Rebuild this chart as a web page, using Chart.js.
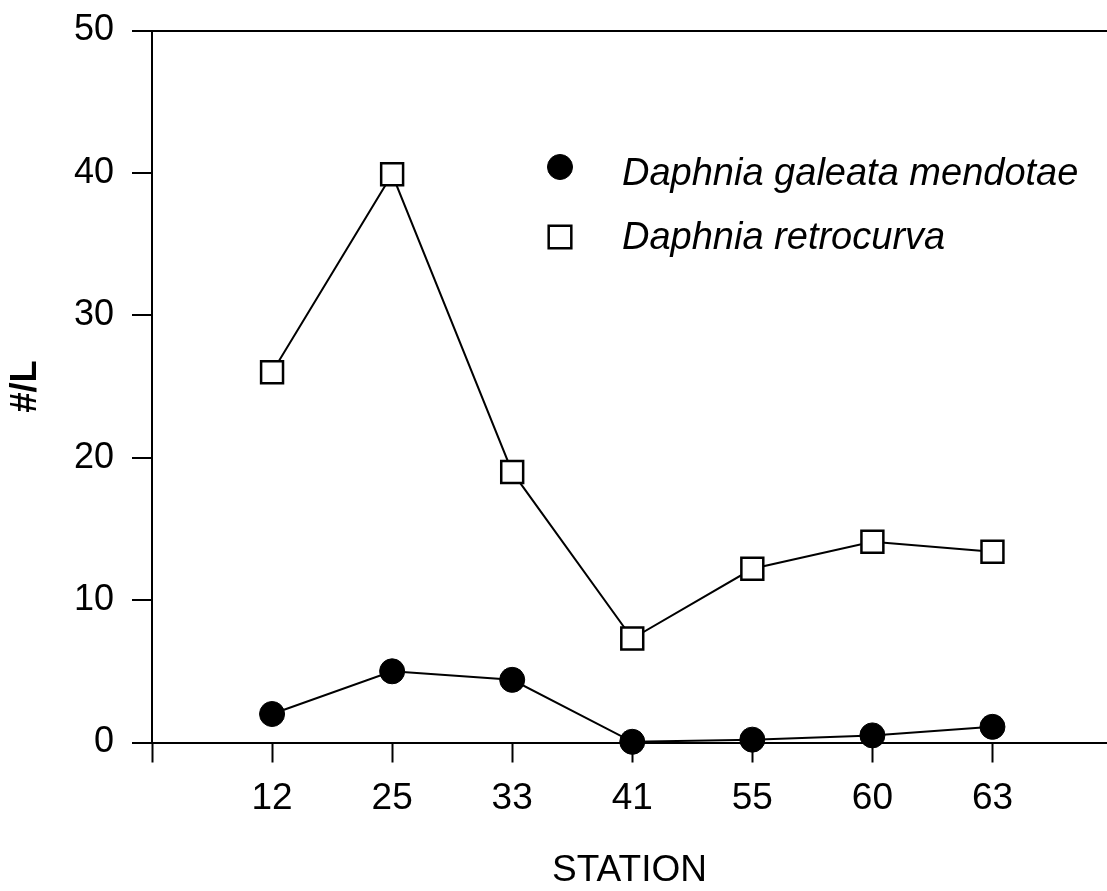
<!DOCTYPE html>
<html>
<head>
<meta charset="utf-8">
<script src="https://cdn.jsdelivr.net/npm/chart.js@4/dist/chart.umd.min.js"></script>
<style>
html,body{margin:0;padding:0;background:#fff;}
#wrap{width:1107px;height:891px;}
</style>
</head>
<body>
<div id="wrap"><canvas id="c" width="1107" height="891"></canvas></div>
<script>
const stations = ['12', '25', '33', '41', '55', '60', '63'];
const galeata = [2.0, 5.0, 4.4, 0.05, 0.2, 0.5, 1.1];
const retrocurva = [26.0, 39.9, 19.0, 7.3, 12.2, 14.1, 13.4];
const yTicks = [0, 10, 20, 30, 40, 50];
const seriesNames = ['Daphnia galeata mendotae', 'Daphnia retrocurva'];

const FONT = '"Liberation Sans", Arial, Helvetica, sans-serif';

const toXY = arr => arr.map((v, i) => ({x: i, y: v}));

const legendPlugin = {
  id: 'customLegend',
  afterDraw(chart) {
    const ctx = chart.ctx;
    ctx.save();
    const items = [
      {ds: chart.data.datasets[0], y: 167, baseline: 185},
      {ds: chart.data.datasets[1], y: 237, baseline: 249}
    ];
    items.forEach(it => {
      ctx.lineWidth = it.ds.pointBorderWidth;
      ctx.strokeStyle = it.ds.pointBorderColor;
      ctx.fillStyle = it.ds.pointBackgroundColor;
      Chart.helpers.drawPoint(ctx, {
        pointStyle: it.ds.pointStyle,
        radius: it.ds.pointStyle === 'rect' ? 16 : it.ds.pointRadius,
        rotation: 0,
        borderWidth: it.ds.pointBorderWidth
      }, 560, it.y);
      ctx.fillStyle = '#000';
      ctx.font = 'italic 38px ' + FONT;
      ctx.textAlign = 'left';
      ctx.textBaseline = 'alphabetic';
      ctx.fillText(it.ds.label, 622, it.baseline);
    });
    ctx.restore();
  }
};

new Chart(document.getElementById('c'), {
  type: 'line',
  data: {
    datasets: [
      {
        label: seriesNames[0],
        data: toXY(galeata),
        borderColor: '#000',
        borderWidth: 2,
        pointStyle: 'circle',
        pointRadius: 12.5,
        pointBackgroundColor: '#000',
        pointBorderColor: '#000',
        pointBorderWidth: 1,
        clip: false,
        tension: 0
      },
      {
        label: seriesNames[1],
        data: toXY(retrocurva),
        borderColor: '#000',
        borderWidth: 2,
        pointStyle: 'rect',
        pointRadius: 15.5,
        pointBackgroundColor: '#fff',
        pointBorderColor: '#000',
        pointBorderWidth: 2.5,
        clip: false,
        tension: 0
      }
    ]
  },
  options: {
    responsive: false,
    animation: false,
    devicePixelRatio: 1,
    layout: {autoPadding: false, padding: {top: 30.5, right: 0, left: 0, bottom: 0}},
    plugins: {legend: {display: false}, tooltip: {enabled: false}},
    scales: {
      x: {
        type: 'linear',
        min: -1,
        max: 6.954,
        afterBuildTicks(scale) {
          scale.ticks = [-1].concat(stations.map((s, i) => i)).map(v => ({value: v}));
        },
        afterFit(scale) {
          scale.height = 148.5;
          scale.paddingLeft = 0;
          scale.paddingRight = 0;
        },
        ticks: {
          callback: v => (v >= 0 && v < stations.length) ? stations[v] : '',
          font: {family: FONT, size: 37},
          color: '#000',
          padding: 14,
          maxRotation: 0,
          autoSkip: false
        },
        grid: {
          drawOnChartArea: false,
          drawTicks: true,
          tickLength: 20,
          tickColor: '#000',
          tickWidth: 2
        },
        border: {display: true, color: '#000', width: 2},
        title: {
          display: true,
          text: 'STATION',
          font: {family: FONT, size: 37},
          color: '#000',
          padding: {top: 0, bottom: -2}
        }
      },
      y: {
        min: 0,
        max: 50,
        afterBuildTicks(scale) {
          scale.ticks = yTicks.map(v => ({value: v}));
        },
        afterFit(scale) {
          scale.width = 152;
          scale.paddingTop = 0;
          scale.paddingBottom = 0;
        },
        ticks: {
          font: {family: FONT, size: 36},
          color: '#000',
          padding: 18
        },
        grid: {
          drawOnChartArea: true,
          color: ctx => (ctx.tick && ctx.tick.value === 50) ? '#000' : 'rgba(0,0,0,0)',
          lineWidth: 2,
          tickLength: 20,
          tickColor: '#000',
          tickWidth: 2
        },
        border: {display: true, color: '#000', width: 2},
        title: {
          display: true,
          text: '#/L',
          font: {family: FONT, size: 36, weight: 'bold'},
          color: '#000',
          padding: {top: 4, bottom: 0}
        }
      }
    }
  },
  plugins: [legendPlugin]
});
</script>
</body>
</html>
